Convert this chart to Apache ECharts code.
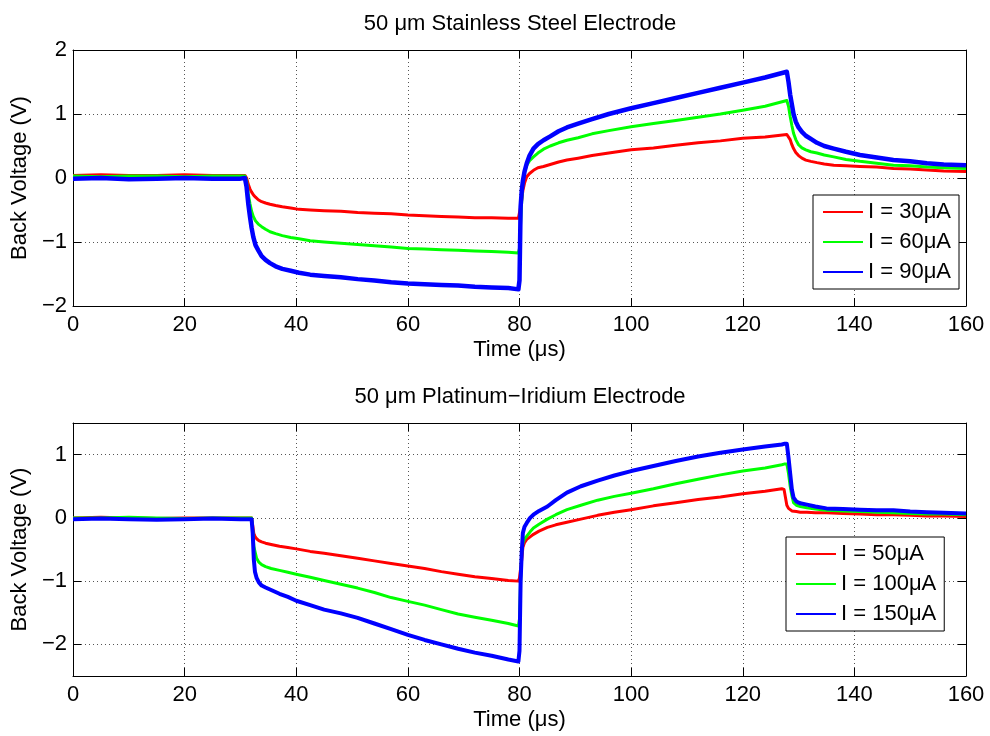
<!DOCTYPE html>
<html>
<head>
<meta charset="utf-8">
<title>Back Voltage</title>
<script src="https://cdn.jsdelivr.net/npm/echarts@6/dist/echarts.min.js"></script>
<style>
  html, body { margin: 0; padding: 0; background: #fff; }
  #chart { width: 990px; height: 736px; }
</style>
</head>
<body>
<div id="chart"></div>
<script>
// ---- Stainless steel electrode (time in µs, voltage in V) ----
const timeSS = [0, 5, 10, 15, 20, 25, 30, 30.8, 31.1, 31.4, 31.7, 32.0, 32.3, 32.7, 33.2, 33.8, 34.5, 35.3, 36.3, 37.5,
  39, 40.5, 42.5, 45, 48, 51, 54, 57, 60, 63, 66, 69, 72, 75, 78, 79.8, 80.0, 80.2, 80.4, 80.6,
  80.9, 81.3, 81.8, 82.5, 83.3, 84.3, 85.5, 87, 88.5, 90.5, 93, 96, 100, 104, 108, 112, 116, 120, 124, 127.9,
  128.2, 128.5, 128.8, 129.1, 129.5, 130, 130.6, 131.3, 132.2, 133.3, 134.6, 136.3, 138.5, 141, 144, 147, 150, 153, 156, 160];

const ss30 = [0.04, 0.05, 0.04, 0.04, 0.05, 0.04, 0.04, 0.04, 0.0, -0.1, -0.17, -0.22, -0.26, -0.3, -0.34, -0.37, -0.39, -0.41, -0.43, -0.45,
  -0.47, -0.49, -0.5, -0.51, -0.52, -0.54, -0.55, -0.56, -0.58, -0.59, -0.6, -0.61, -0.62, -0.62, -0.63, -0.63, -0.6, -0.45, -0.34, -0.2,
  -0.08, 0.02, 0.07, 0.12, 0.16, 0.18, 0.21, 0.25, 0.28, 0.31, 0.35, 0.39, 0.44, 0.47, 0.51, 0.55, 0.58, 0.62, 0.64, 0.68,
  0.66, 0.6, 0.52, 0.46, 0.4, 0.35, 0.31, 0.28, 0.26, 0.24, 0.22, 0.2, 0.19, 0.18, 0.17, 0.15, 0.14, 0.125, 0.11, 0.1];

const ss60 = [0.03, 0.02, 0.03, 0.03, 0.02, 0.03, 0.03, 0.03, -0.05, -0.25, -0.4, -0.52, -0.6, -0.67, -0.72, -0.76, -0.8, -0.84, -0.87, -0.9,
  -0.93, -0.95, -0.98, -1.0, -1.02, -1.04, -1.06, -1.08, -1.1, -1.11, -1.12, -1.13, -1.14, -1.15, -1.16, -1.17, -1.1, -0.7, -0.35, -0.05,
  0.1, 0.2, 0.27, 0.33, 0.39, 0.45, 0.5, 0.55, 0.59, 0.63, 0.69, 0.74, 0.8, 0.85, 0.9, 0.95, 1.0, 1.06, 1.12, 1.21,
  1.12, 0.96, 0.82, 0.7, 0.6, 0.52, 0.47, 0.44, 0.41, 0.39, 0.36, 0.33, 0.29, 0.26, 0.23, 0.2, 0.19, 0.17, 0.16, 0.15];

const ss90 = [-0.01, 0.0, -0.02, -0.01, 0.0, -0.01, -0.01, 0.0, -0.14, -0.4, -0.6, -0.78, -0.92, -1.05, -1.13, -1.22, -1.28, -1.33, -1.38, -1.42,
  -1.45, -1.48, -1.51, -1.53, -1.55, -1.58, -1.6, -1.63, -1.65, -1.66, -1.67, -1.68, -1.7, -1.71, -1.72, -1.74, -1.6, -0.45, -0.2, -0.05,
  0.1, 0.23, 0.35, 0.46, 0.53, 0.59, 0.65, 0.73, 0.79, 0.85, 0.92, 1.0, 1.09, 1.17, 1.25, 1.33, 1.41, 1.49, 1.57, 1.66,
  1.5, 1.3, 1.15, 1.0, 0.88, 0.79, 0.72, 0.66, 0.61, 0.55, 0.5, 0.46, 0.41, 0.36, 0.32, 0.28, 0.26, 0.23, 0.21, 0.2];

// ---- Platinum-iridium electrode ----
const timePI = [0, 5, 10, 15, 20, 25, 30, 32.0, 32.2, 32.4, 32.6, 32.9, 33.3, 33.8, 34.5, 35.5, 37, 38.5, 40, 42.5,
  45, 48, 51, 54, 57, 60, 63, 66, 69, 72, 75, 78, 79.8, 80.0, 80.2, 80.4, 80.6, 80.9, 81.3, 81.9,
  82.5, 83.5, 85, 86.5, 88.5, 91, 94, 97, 100, 104, 108, 112, 116, 120, 124, 127.0, 127.4, 127.9, 128.2, 128.5,
  128.8, 129.1, 129.6, 130.3, 131.5, 133, 135, 138, 141, 144, 147, 150, 153, 156, 160];

const pi50 = [0.0, 0.01, 0.0, -0.01, 0.0, 0.0, 0.0, 0.0, -0.12, -0.25, -0.29, -0.33, -0.36, -0.38, -0.4, -0.42, -0.45, -0.47, -0.49, -0.53,
  -0.56, -0.6, -0.64, -0.68, -0.72, -0.76, -0.8, -0.85, -0.89, -0.93, -0.96, -0.99, -1.0, -0.95, -0.8, -0.66, -0.47, -0.39, -0.34, -0.3,
  -0.26, -0.21, -0.15, -0.11, -0.07, -0.02, 0.04, 0.09, 0.13, 0.19, 0.24, 0.29, 0.33, 0.38, 0.42, 0.46, 0.45, 0.2, 0.15, 0.12,
  0.11, 0.1, 0.1, 0.09, 0.09, 0.08, 0.08, 0.07, 0.06, 0.05, 0.05, 0.04, 0.03, 0.03, 0.02];

const pi100 = [0.0, 0.0, 0.01, 0.0, -0.01, 0.0, 0.0, 0.0, -0.2, -0.45, -0.53, -0.64, -0.7, -0.74, -0.77, -0.8, -0.83, -0.86, -0.89, -0.94,
  -0.99, -1.05, -1.11, -1.18, -1.26, -1.32, -1.38, -1.45, -1.52, -1.57, -1.62, -1.67, -1.71, -1.6, -1.0, -0.55, -0.4, -0.33, -0.29, -0.22,
  -0.16, -0.1, -0.02, 0.05, 0.13, 0.2, 0.28, 0.34, 0.39, 0.46, 0.54, 0.61, 0.68, 0.74, 0.79, 0.84, 0.85, 0.85, 0.7, 0.5,
  0.35, 0.24, 0.2, 0.18, 0.16, 0.14, 0.12, 0.11, 0.1, 0.09, 0.08, 0.07, 0.06, 0.06, 0.05];

const pi150 = [-0.02, -0.01, -0.02, -0.03, -0.02, -0.01, -0.02, -0.02, -0.24, -0.66, -0.85, -0.95, -1.02, -1.07, -1.1, -1.14, -1.2, -1.25, -1.31, -1.38,
  -1.45, -1.51, -1.58, -1.67, -1.76, -1.85, -1.93, -2.0, -2.07, -2.13, -2.18, -2.24, -2.27, -2.1, -1.0, -0.55, -0.24, -0.14, -0.08, 0.0,
  0.05, 0.11, 0.18, 0.28, 0.4, 0.5, 0.59, 0.67, 0.74, 0.82, 0.9, 0.97, 1.03, 1.08, 1.13, 1.16, 1.17, 1.17, 0.95, 0.7,
  0.45, 0.32, 0.26, 0.23, 0.21, 0.18, 0.15, 0.14, 0.13, 0.12, 0.12, 0.1, 0.09, 0.08, 0.07];

const timeTicks = { min: 0, max: 160, interval: 20 };
const titles = ['50 μm Stainless Steel Electrode', '50 μm Platinum−Iridium Electrode'];
const xLabel = 'Time (μs)';
const yLabel = 'Back Voltage (V)';
const namesSS = ['I = 30μA', 'I = 60μA', 'I = 90μA'];
const namesPI = ['I = 50μA', 'I = 100μA', 'I = 150μA'];

const FONT = "'Liberation Sans', Arial, Helvetica, sans-serif";
const FS = 22;
const RED = '#ff0000', GREEN = '#00ff00', BLUE = '#0000ff';

const pairs = (t, v) => t.map((x, i) => [x, v[i]]);
const minusFmt = v => String(v).replace('-', '−');

const grids = [
  { left: 73, top: 50, width: 893, height: 256 },
  { left: 73, top: 423, width: 893, height: 253 }
];

function xAxes(gridIndex) {
  const base = {
    type: 'value', gridIndex, min: timeTicks.min, max: timeTicks.max, interval: timeTicks.interval,
    axisLine: { show: true, onZero: false, lineStyle: { color: '#000', width: 1 } },
    axisTick: { show: true, inside: true, length: 8, lineStyle: { color: '#000' } }
  };
  return [
    Object.assign({}, base, {
      position: 'bottom',
      name: xLabel, nameLocation: 'middle', nameGap: 33,
      nameTextStyle: { fontFamily: FONT, fontSize: FS, color: '#000' },
      axisLabel: { fontFamily: FONT, fontSize: FS, color: '#000', margin: 8 },
      splitLine: { show: true, lineStyle: { color: '#555', width: 1, type: [1, 3] } }
    }),
    Object.assign({}, base, { position: 'top', axisLabel: { show: false }, splitLine: { show: false } })
  ];
}

function yAxes(gridIndex, min, max, extra) {
  const base = Object.assign({
    type: 'value', gridIndex, min, max,
    axisLine: { show: true, onZero: false, lineStyle: { color: '#000', width: 1 } },
    axisTick: { show: true, inside: true, length: 8, lineStyle: { color: '#000' } }
  }, extra);
  return [
    Object.assign({}, base, {
      position: 'left',
      name: yLabel, nameLocation: 'middle', nameGap: 40, nameRotate: 90,
      nameTextStyle: { fontFamily: FONT, fontSize: FS, color: '#000' },
      axisLabel: {
        fontFamily: FONT, fontSize: FS, color: '#000', margin: 6,
        showMinLabel: extra.splitNumber ? false : true,
        showMaxLabel: extra.splitNumber ? false : true,
        formatter: v => Number.isInteger(v) ? minusFmt(v) : ''
      },
      splitLine: { show: true, lineStyle: { color: '#555', width: 1, type: [1, 3] } }
    }),
    Object.assign({}, base, { position: 'right', axisLabel: { show: false }, splitLine: { show: false } })
  ];
}

function lineSeries(name, t, v, color, width, xi, yi) {
  return {
    type: 'line', name, data: pairs(t, v), xAxisIndex: xi, yAxisIndex: yi,
    showSymbol: false, symbol: 'none', smooth: false, silent: true, animation: false,
    lineStyle: { color, width, join: 'round' }, itemStyle: { color }
  };
}

function legend(names, left, top) {
  return {
    data: names, orient: 'vertical', left, top,
    backgroundColor: '#fff', borderColor: '#000', borderWidth: 1,
    padding: [6, 8, 6, 10], itemGap: 8, itemWidth: 40, itemHeight: 2, icon: 'rect',
    textStyle: { fontFamily: FONT, fontSize: FS, color: '#000' },
    selectedMode: false
  };
}

const chart = echarts.init(document.getElementById('chart'), null, { renderer: 'canvas' });
chart.setOption({
  animation: false,
  backgroundColor: '#fff',
  textStyle: { fontFamily: FONT },
  title: [
    { text: titles[0], left: 515, top: 8, textAlign: 'center',
      textStyle: { fontFamily: FONT, fontSize: FS, fontWeight: 'normal', color: '#000' } },
    { text: titles[1], left: 515, top: 381, textAlign: 'center',
      textStyle: { fontFamily: FONT, fontSize: FS, fontWeight: 'normal', color: '#000' } }
  ],
  grid: grids,
  xAxis: [...xAxes(0), ...xAxes(1)],
  yAxis: [...yAxes(0, -2, 2, { interval: 1 }), ...yAxes(1, -2.5, 1.5, { splitNumber: 4 })],
  legend: [legend(namesSS, 813, 195), legend(namesPI, 786, 537)],
  series: [
    lineSeries(namesSS[0], timeSS, ss30, RED, 3, 0, 0),
    lineSeries(namesSS[1], timeSS, ss60, GREEN, 3, 0, 0),
    lineSeries(namesSS[2], timeSS, ss90, BLUE, 4.5, 0, 0),
    lineSeries(namesPI[0], timePI, pi50, RED, 3, 2, 2),
    lineSeries(namesPI[1], timePI, pi100, GREEN, 3, 2, 2),
    lineSeries(namesPI[2], timePI, pi150, BLUE, 4, 2, 2)
  ]
});
</script>
</body>
</html>
